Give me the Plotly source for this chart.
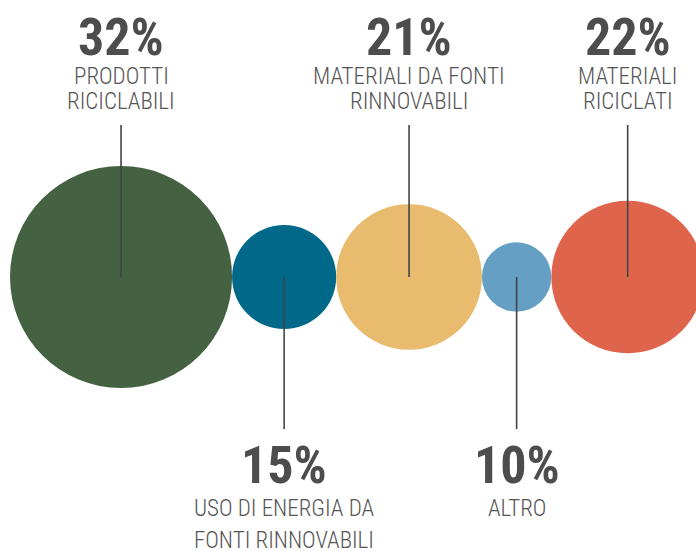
import numpy as np
import plotly.graph_objects as go

# data
values = [32, 15, 21, 10, 22]
labels = [
    'PRODOTTI<br>RICICLABILI',
    'USO DI ENERGIA DA<br>FONTI RINNOVABILI',
    'MATERIALI DA FONTI<br>RINNOVABILI',
    'ALTRO',
    'MATERIALI<br>RICICLATI',
]
label_side = ['top', 'bottom', 'top', 'bottom', 'top']
colors = ['#446141', '#006889', '#e8bb6f', '#659fc3', '#de644b']

LABEL_FONT = 'Roboto Condensed, Liberation Sans Narrow, DejaVu Sans Condensed, Roboto'
TEXT_COLOR = '#4d4d4d'

W, H = 696, 551
k = 6.94          # px per unit (circle diameter == value)
left_px, cy_px = 10, 277

# circles are tangent, diameter proportional to value
vals = np.array(values, dtype=float)
right_edges = np.cumsum(vals)
centers = right_edges - vals / 2

fig = go.Figure()

# invisible trace to hold the axes
fig.add_trace(go.Scatter(x=centers, y=np.zeros(len(values)), mode='markers',
                         marker=dict(size=1, opacity=0), hoverinfo='skip', showlegend=False))


def py(px):
    # pixel row -> y units
    return (cy_px - px) / k


shapes = []
annotations = []
for c, v, lab, side, col in zip(centers, values, labels, label_side, colors):
    shapes.append(dict(type='circle', xref='x', yref='y', x0=c - v / 2, x1=c + v / 2,
                       y0=-v / 2, y1=v / 2, fillcolor=col, line=dict(width=0), layer='below'))
    if side == 'top':
        y_end, y_pct, rows = py(125), py(37), [py(76), py(101)]
    else:
        y_end, y_pct, rows = py(429), py(465), [py(508), py(540)]
    shapes.append(dict(type='line', xref='x', yref='y', x0=c, x1=c, y0=0, y1=y_end,
                       line=dict(color='#444444', width=1.6), layer='above'))
    annotations.append(dict(x=c, y=y_pct, xref='x', yref='y', text=f'<b>{v}%</b>',
                            showarrow=False, yanchor='middle',
                            font=dict(family=LABEL_FONT, size=52, color=TEXT_COLOR)))
    for i, line in enumerate(lab.split('<br>')):
        annotations.append(dict(x=c, y=rows[i], xref='x', yref='y', text=line,
                                showarrow=False, yanchor='middle',
                                font=dict(family=LABEL_FONT, size=23, color='#555555',
                                          weight=300)))

fig.update_layout(
    width=W, height=H,
    margin=dict(l=0, r=0, t=0, b=0),
    paper_bgcolor='white', plot_bgcolor='white',
    xaxis=dict(range=[-left_px / k, (W - left_px) / k], visible=False, fixedrange=True),
    yaxis=dict(range=[-(H - cy_px) / k, cy_px / k], visible=False, fixedrange=True),
    shapes=shapes,
    annotations=annotations,
    showlegend=False,
)

fig.write_html('out.html', config={'displayModeBar': False},
               post_script="document.body.style.margin='0';")
